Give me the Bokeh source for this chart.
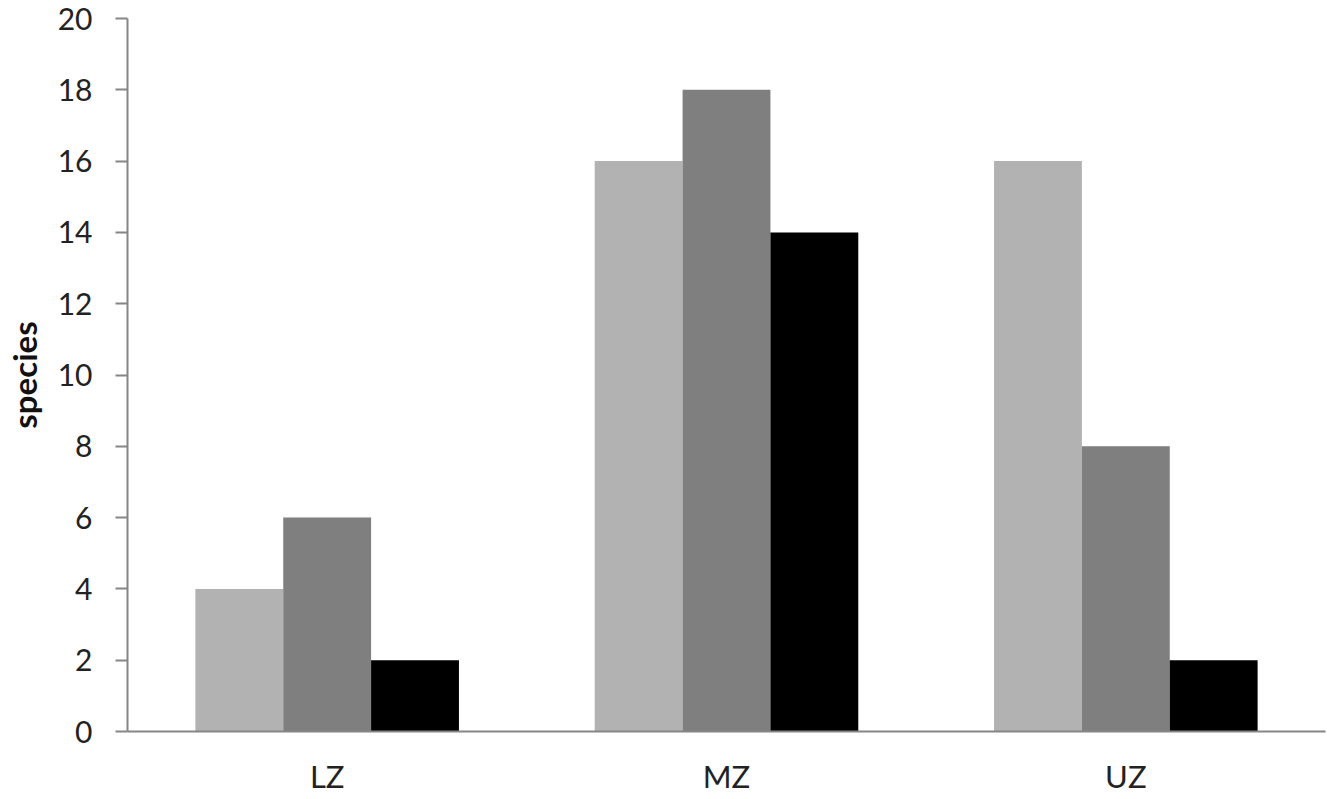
from bokeh.plotting import figure
from bokeh.models import ColumnDataSource, FactorRange, Range1d, FixedTicker
from bokeh.transform import dodge
from bokeh.embed import file_html
from bokeh.resources import INLINE

zones = ["LZ", "MZ", "UZ"]
series_a = [4, 16, 16]   # light grey
series_b = [6, 18, 8]    # mid grey
series_c = [2, 14, 2]    # black
y_ticks = [0, 2, 4, 6, 8, 10, 12, 14, 16, 18, 20]

src = ColumnDataSource(dict(zone=zones, a=series_a, b=series_b, c=series_c))

p = figure(x_range=FactorRange(*zones, range_padding=0), y_range=Range1d(0, 20),
           width=1327, height=799, output_backend="svg", toolbar_location=None,
           min_border_left=126, min_border_right=2, min_border_top=18, min_border_bottom=68)

w = 0.22
p.vbar(x=dodge("zone", -w, range=p.x_range), top="a", width=w, source=src,
       fill_color="#B2B2B2", line_color=None)
p.vbar(x=dodge("zone", 0, range=p.x_range), top="b", width=w, source=src,
       fill_color="#7F7F7F", line_color=None)
p.vbar(x=dodge("zone", w, range=p.x_range), top="c", width=w, source=src,
       fill_color="#000000", line_color=None)

p.outline_line_color = None
p.xgrid.grid_line_color = None
p.ygrid.grid_line_color = None
p.background_fill_color = "white"
p.border_fill_color = "white"

font = "Lato"
yax = p.yaxis[0]
yax.ticker = FixedTicker(ticks=y_ticks)
yax.axis_line_color = "#868686"
yax.axis_line_width = 2
yax.major_tick_line_color = "#868686"
yax.major_tick_line_width = 2
yax.major_tick_out = 12
yax.major_tick_in = 0
yax.minor_tick_line_color = None
yax.major_label_text_font = font
yax.major_label_text_font_size = "30px"
yax.major_label_text_color = "#222222"
yax.major_label_standoff = 23
yax.axis_label = "species"
yax.axis_label_text_font = font
yax.axis_label_text_font_style = "bold"
yax.axis_label_text_font_size = "33px"
yax.axis_label_text_color = "#111111"
yax.axis_label_standoff = 11

xax = p.xaxis[0]
xax.axis_line_color = "#868686"
xax.axis_line_width = 2
xax.major_tick_line_color = None
xax.major_tick_out = 0
xax.major_tick_in = 0
xax.minor_tick_line_color = None
xax.major_label_text_font = font
xax.major_label_text_font_size = "31px"
xax.major_label_text_color = "#222222"
xax.major_label_standoff = 25

open("out.html", "w").write(file_html(p, INLINE))
